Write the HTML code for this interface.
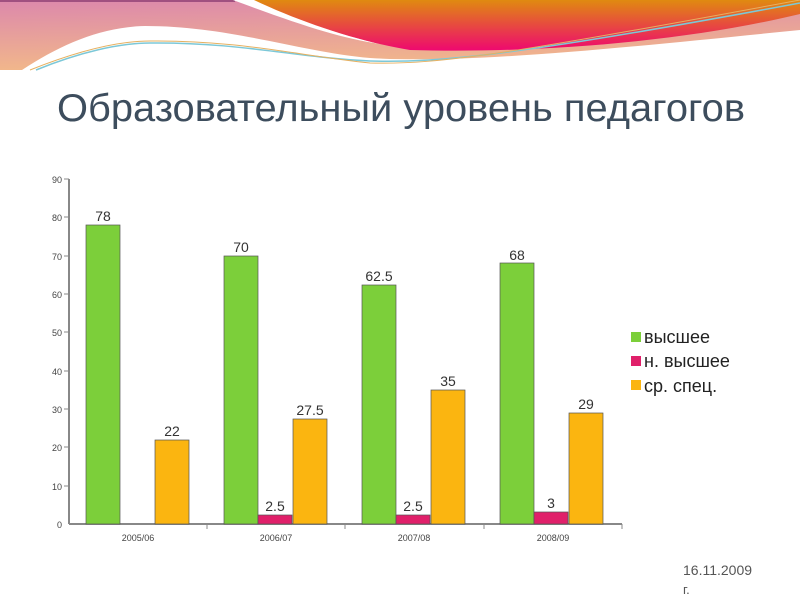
<!DOCTYPE html>
<html><head><meta charset="utf-8"><style>
body{margin:0;width:800px;height:600px;overflow:hidden;background:#fff;font-family:"Liberation Sans",sans-serif}
svg{position:absolute;left:0;top:0}
</style></head><body>
<svg width="800" height="600" viewBox="0 0 800 600">
<defs>
<linearGradient id="pk" x1="0" y1="0" x2="0.2" y2="1"><stop offset="0" stop-color="#dc88ac"/><stop offset="1" stop-color="#f2b88a"/></linearGradient>
<linearGradient id="or" x1="0" y1="0" x2="0" y2="1"><stop offset="0" stop-color="#e08a10"/><stop offset="1" stop-color="#ee0870"/></linearGradient>
</defs>
<rect x="0" y="0" width="800" height="70" fill="url(#pk)"/>
<rect x="0" y="0" width="235" height="2" fill="#a05080"/>
<path d="M233,0 L256,0 C300,20 340,35 380,44 C340,38 300,25 233,0 Z" fill="#fff"/>
<path d="M254,0 L800,0 L800,14 C700,38 560,54 410,50 C360,42 300,22 254,0 Z" fill="url(#or)"/>
<path d="M22,70 C60,45 100,27 145,26 C230,26 300,52 370,58 C470,64 620,48 800,30 L800,70 Z" fill="#fff"/>
<path d="M36,70 C80,52 120,43 150,43 C240,42 300,58 370,61 C440,63 520,55 800,3" fill="none" stroke="#7cc8d8" stroke-width="1.5"/>
<path d="M30,70 C80,50 120,41 150,41 C240,40 300,56 370,63 C440,65 520,52 800,0" fill="none" stroke="#e6b060" stroke-width="1"/>
<text x="401" y="121" text-anchor="middle" font-size="39" textLength="688" lengthAdjust="spacingAndGlyphs" fill="#3d4d5d">Образовательный уровень педагогов</text>
<g font-size="9" fill="#444" text-anchor="end">
<line x1="69" y1="179" x2="69" y2="524" stroke="#888" stroke-width="2"/>
<line x1="69" y1="524" x2="622" y2="524" stroke="#888" stroke-width="2"/>
<g stroke="#888"><line x1="64" y1="179" x2="69" y2="179"/><line x1="64" y1="217" x2="69" y2="217"/><line x1="64" y1="256" x2="69" y2="256"/><line x1="64" y1="294" x2="69" y2="294"/><line x1="64" y1="332" x2="69" y2="332"/><line x1="64" y1="371" x2="69" y2="371"/><line x1="64" y1="409" x2="69" y2="409"/><line x1="64" y1="447" x2="69" y2="447"/><line x1="64" y1="486" x2="69" y2="486"/><line x1="207" y1="524" x2="207" y2="529"/><line x1="345" y1="524" x2="345" y2="529"/><line x1="484" y1="524" x2="484" y2="529"/><line x1="622" y1="524" x2="622" y2="529"/></g>
<text x="62" y="183">90</text><text x="62" y="221">80</text><text x="62" y="260">70</text><text x="62" y="298">60</text><text x="62" y="336">50</text><text x="62" y="375">40</text><text x="62" y="413">30</text><text x="62" y="451">20</text><text x="62" y="490">10</text><text x="62" y="528">0</text>
</g>
<g font-size="9" fill="#444" text-anchor="middle">
<text x="138" y="541">2005/06</text><text x="276" y="541">2006/07</text><text x="414" y="541">2007/08</text><text x="553" y="541">2008/09</text>
</g>
<g stroke="#555" stroke-width="0.7">
<rect x="86" y="225" width="34" height="299" fill="#7ccf3a"/>
<rect x="155" y="440" width="34" height="84" fill="#fbb510"/>
<rect x="224" y="256" width="34" height="268" fill="#7ccf3a"/>
<rect x="258" y="515" width="34" height="9" fill="#e0206a"/>
<rect x="293" y="419" width="34" height="105" fill="#fbb510"/>
<rect x="362" y="285" width="34" height="239" fill="#7ccf3a"/>
<rect x="396" y="515" width="34" height="9" fill="#e0206a"/>
<rect x="431" y="390" width="34" height="134" fill="#fbb510"/>
<rect x="500" y="263" width="34" height="261" fill="#7ccf3a"/>
<rect x="534" y="512" width="34" height="12" fill="#e0206a"/>
<rect x="569" y="413" width="34" height="111" fill="#fbb510"/>
</g>
<g font-size="14" fill="#333" text-anchor="middle">
<text x="103" y="221">78</text><text x="172" y="436">22</text>
<text x="241" y="252">70</text><text x="275" y="511">2.5</text><text x="310" y="415">27.5</text>
<text x="379" y="281">62.5</text><text x="413" y="511">2.5</text><text x="448" y="386">35</text>
<text x="517" y="260">68</text><text x="551" y="508">3</text><text x="586" y="409">29</text>
</g>
<g font-size="18" fill="#222">
<rect x="631" y="332" width="10" height="10" fill="#7ccf3a"/><text x="644" y="343">высшее</text>
<rect x="631" y="356" width="10" height="10" fill="#e0206a"/><text x="644" y="367">н. высшее</text>
<rect x="631" y="380" width="10" height="10" fill="#fbb510"/><text x="644" y="392">ср. спец.</text>
</g>
<text x="683" y="575" font-size="14" fill="#555">16.11.2009</text>
<text x="683" y="594" font-size="13" fill="#555">г.</text>
</svg>
</body></html>
